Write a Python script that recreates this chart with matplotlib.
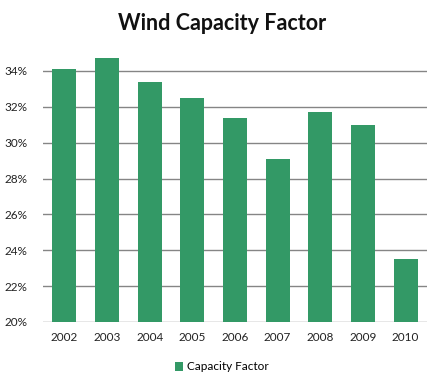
import matplotlib
matplotlib.use('Agg')
import matplotlib.pyplot as plt
from matplotlib.ticker import FuncFormatter

years = ['2002', '2003', '2004', '2005', '2006', '2007', '2008', '2009', '2010']
capacity_factor = [34.1, 34.7, 33.4, 32.5, 31.4, 29.1, 31.7, 31.0, 23.5]
y_ticks = [20, 22, 24, 26, 28, 30, 32, 34]

plt.rcParams['font.family'] = ['Lato', 'DejaVu Sans']

fig = plt.figure(figsize=(4.44, 3.86), dpi=100)
ax = fig.add_axes([43 / 444, 1 - 322 / 386, 384 / 444, 269 / 386])

x = range(len(years))
ax.bar(x, capacity_factor, width=0.57, color='#339966', zorder=3,
       label='Capacity Factor')

ax.set_ylim(20, 35)
ax.set_xlim(-0.5, len(years) - 0.5)
ax.set_yticks(y_ticks)
ax.yaxis.set_major_formatter(FuncFormatter(lambda v, p: f'{v:.0f}%'))
ax.set_xticks(list(x))
ax.set_xticklabels(years)
ax.grid(axis='y', color='#858585', linewidth=1, zorder=0)
ax.tick_params(length=0, labelsize=8.5, colors='#222222')
ax.tick_params(axis='x', pad=7)
ax.tick_params(axis='y', pad=11)
for s in ax.spines.values():
    s.set_visible(False)

fig.text(0.5, 1 - 23 / 386, 'Wind Capacity Factor', ha='center', va='center',
         fontsize=15.5, fontweight='bold', color='#111111')
fig.legend(loc='center', bbox_to_anchor=(0.5, 1 - 367 / 386), frameon=False,
           fontsize=8.5, handlelength=0.7, handleheight=0.7, handletextpad=0.3)

fig.savefig('out.png', dpi=100)
